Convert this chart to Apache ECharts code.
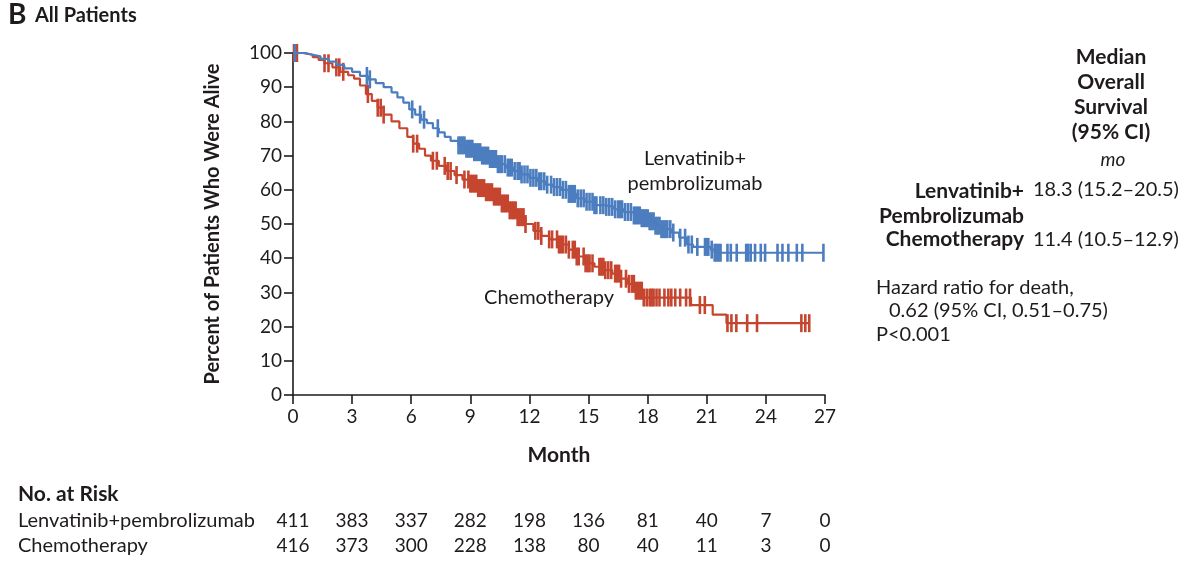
<!DOCTYPE html>
<html>
<head>
<meta charset="utf-8">
<script src="https://cdn.jsdelivr.net/npm/echarts@6/dist/echarts.min.js"></script>
<style>
  html, body { margin: 0; padding: 0; background: #fff; }
  #chart { width: 1200px; height: 564px; }
</style>
</head>
<body>
<div id="chart"></div>
<script>
// survival steps: [month, percent alive]
var lenvSteps = [
  [0, 100], [0.6, 99.5], [1.0, 99], [1.4, 98.3], [1.8, 97.5], [2.2, 96.5], [2.6, 95.5], [3.0, 94.5],
  [3.4, 93.3], [3.8, 92.3], [4.2, 91.2], [4.6, 90], [5.0, 88.5], [5.3, 87], [5.6, 85.5], [5.9, 83.5],
  [6.2, 82], [6.5, 80.5], [6.8, 79.5], [7.1, 78], [7.4, 76.8], [7.7, 75.5], [8.0, 74.3], [8.4, 73],
  [8.8, 72], [9.2, 71], [9.6, 70], [10.0, 69], [10.4, 67.5], [10.8, 66.5], [11.2, 65.5], [11.6, 64.5],
  [12.0, 63.5], [12.4, 62.5], [12.8, 61.5], [13.2, 60.8], [13.6, 60], [14.0, 58.8], [14.4, 57.5],
  [14.8, 56.5], [15.3, 55.5], [15.8, 55], [16.3, 54.3], [16.8, 53.5], [17.3, 52.5], [17.7, 51.7],
  [18.1, 50.8], [18.4, 49.5], [18.7, 48.5], [19.2, 47.5], [19.6, 46], [20.0, 44], [20.3, 43.3],
  [21.2, 42.5], [21.4, 41.6]
];
var chemoSteps = [
  [0, 100], [0.5, 99.5], [1.0, 98.8], [1.3, 98], [1.6, 97], [2.0, 95.8], [2.4, 94.5], [2.8, 93.5],
  [3.1, 92.5], [3.4, 90.5], [3.7, 88], [4.0, 86], [4.3, 84], [4.6, 82], [5.0, 80], [5.4, 78],
  [5.8, 75.5], [6.1, 73.5], [6.4, 72], [6.7, 70], [7.0, 68.5], [7.4, 67], [7.8, 65.5], [8.2, 64.3],
  [8.6, 63], [9.0, 61.8], [9.4, 60.5], [9.8, 59.3], [10.2, 58], [10.6, 56], [11.0, 54], [11.4, 52],
  [11.8, 50], [12.2, 48], [12.6, 46.5], [13.0, 45.5], [13.5, 44], [14.0, 42.5], [14.4, 40.5],
  [14.8, 38.5], [15.3, 37.5], [15.8, 36.5], [16.2, 35.5], [16.6, 34], [17.0, 32.5], [17.4, 30.5],
  [17.8, 28.5], [20.2, 26.3], [21.3, 23.5], [22.0, 21]
];

// censoring ticks (months)
var lenvCensor = [
  0.1, 3.75, 3.9, 6.05, 6.45, 6.65, 7.35, 8.4, 8.5, 8.6, 8.7, 8.8, 8.9, 9.0, 9.1, 9.2, 9.3, 9.4, 9.5,
  9.6, 9.7, 9.8, 9.9, 10.0, 10.1, 10.2, 10.3, 10.4, 10.5, 10.6, 10.75, 10.9, 11.0, 11.1, 11.25, 11.4,
  11.5, 11.6, 11.75, 11.9, 12.05, 12.2, 12.35, 12.5, 12.6, 12.75, 12.9, 13.1, 13.25, 13.4, 13.55,
  13.7, 13.85, 14.0, 14.1, 14.2, 14.3, 14.45, 14.6, 14.75, 14.9, 15.05, 15.2, 15.3, 15.4, 15.6, 15.75,
  15.9, 16.05, 16.2, 16.35, 16.5, 16.6, 16.7, 16.85, 17.0, 17.15, 17.3, 17.4, 17.5, 17.6, 17.7,
  17.8, 17.9, 18.0, 18.1, 18.2, 18.3, 18.4, 18.5, 18.6, 18.7, 18.8, 18.9, 19.0, 19.15, 19.3, 19.65,
  19.9, 20.07, 20.24, 20.52, 20.91, 21.0, 21.08, 21.25, 21.4, 21.5, 21.6, 21.7, 22.05, 22.22, 22.52,
  23.0, 23.1, 23.23, 23.45, 23.74, 23.96, 24.59, 24.84, 25.14, 25.57, 25.85, 26.92
];
var chemoCensor = [
  0.05, 0.2, 1.6, 1.8, 2.2, 2.35, 2.55, 3.8, 4.3, 4.45, 4.6, 6.1, 6.3, 7.1, 7.3, 7.7, 7.85, 8.0, 8.3,
  8.7, 8.9, 9.0, 9.1, 9.2, 9.3, 9.4, 9.5, 9.6, 9.7, 9.8, 9.9, 10.0, 10.1, 10.2, 10.3, 10.4, 10.5, 10.6,
  10.7, 10.8, 10.9, 11.0, 11.1, 11.2, 11.3, 11.4, 11.5, 11.6, 11.7, 11.8, 12.3, 12.45, 12.6, 13.0,
  13.15, 13.4, 13.5, 13.6, 13.7, 13.85, 14.0, 14.2, 14.3, 14.4, 14.5, 14.75, 14.85, 14.95, 15.05,
  15.2, 15.55, 15.65, 15.75, 15.85, 16.0, 16.15, 16.35, 16.45, 16.55, 16.65, 16.9, 17.05, 17.2,
  17.3, 17.4, 17.5, 17.6, 17.7, 17.8, 17.95, 18.1, 18.2, 18.3, 18.45, 18.6, 18.85, 19.05, 19.2, 19.4,
  19.65, 19.95, 20.15, 20.65, 20.9, 22.05, 22.25, 22.5, 23.05, 23.55, 25.8, 26.0, 26.2
];

var riskMonths = [0, 3, 6, 9, 12, 15, 18, 21, 24, 27];
var riskLenv = [411, 383, 337, 282, 198, 136, 81, 40, 7, 0];
var riskChemo = [416, 373, 300, 228, 138, 80, 40, 11, 3, 0];
var rowNames = ['Lenvatinib+pembrolizumab', 'Chemotherapy'];

var BLUE = '#4b7dbf';
var RED = '#c5452f';
var INK = '#1f1b1c';
var FONT = 'Lato';

function survivalAt(steps, t) {
  var v = steps[0][1];
  for (var i = 0; i < steps.length; i++) {
    if (steps[i][0] <= t) v = steps[i][1];
  }
  return v;
}
function curveWithTail(steps, censor) {
  var out = steps.slice();
  var last = censor[censor.length - 1];
  out.push([last, survivalAt(steps, last)]);
  return out;
}
function censorPoints(steps, censor) {
  return censor.map(function (t) { return [t, survivalAt(steps, t)]; });
}
function riskRow(name, counts) {
  return riskMonths.map(function (m, i) { return [m, name, counts[i]]; });
}

var chart = echarts.init(document.getElementById('chart'));

var axisStyle = { color: INK, width: 1.6 };
var censorSize = [2.6, 18];

chart.setOption({
  animation: false,
  textStyle: { fontFamily: FONT, color: INK },
  grid: [
    { left: 293, right: 375, top: 53, bottom: 169 },
    { left: 293, right: 375, top: 508, height: 50 }
  ],
  xAxis: [
    {
      gridIndex: 0, type: 'value', min: 0, max: 27, interval: 3,
      name: 'Month', nameLocation: 'middle', nameGap: 50,
      nameTextStyle: { fontFamily: FONT, fontSize: 21, fontWeight: 'bold', color: INK },
      axisLine: { lineStyle: axisStyle },
      axisTick: { length: 9, lineStyle: axisStyle },
      axisLabel: { fontFamily: FONT, fontSize: 19, color: INK, margin: 12 },
      splitLine: { show: false }
    },
    {
      gridIndex: 1, type: 'value', min: 0, max: 27, show: false
    }
  ],
  yAxis: [
    {
      gridIndex: 0, type: 'value', min: 0, max: 100, interval: 10,
      name: 'Percent of Patients Who Were Alive', nameLocation: 'middle', nameGap: 70,
      nameTextStyle: { fontFamily: FONT, fontSize: 20, fontWeight: 'bold', color: INK },
      axisLine: { show: true, lineStyle: axisStyle },
      axisTick: { show: true, length: 9, lineStyle: axisStyle },
      axisLabel: { fontFamily: FONT, fontSize: 19, color: INK, margin: 11 },
      splitLine: { show: false }
    },
    {
      gridIndex: 1, type: 'category', data: rowNames, inverse: true,
      axisLine: { show: false }, axisTick: { show: false },
      axisLabel: { interval: 0, fontFamily: FONT, fontSize: 20, color: INK, align: 'left', margin: 275 }
    }
  ],
  series: [
    {
      type: 'line', step: 'end', showSymbol: false, xAxisIndex: 0, yAxisIndex: 0,
      data: curveWithTail(chemoSteps, chemoCensor),
      lineStyle: { color: RED, width: 2.2 }, z: 2
    },
    {
      type: 'scatter', xAxisIndex: 0, yAxisIndex: 0,
      symbol: 'rect', symbolSize: censorSize,
      data: censorPoints(chemoSteps, chemoCensor),
      itemStyle: { color: RED, opacity: 1 }, z: 3
    },
    {
      type: 'line', step: 'end', showSymbol: false, xAxisIndex: 0, yAxisIndex: 0,
      data: curveWithTail(lenvSteps, lenvCensor),
      lineStyle: { color: BLUE, width: 2.2 }, z: 4
    },
    {
      type: 'scatter', xAxisIndex: 0, yAxisIndex: 0,
      symbol: 'rect', symbolSize: censorSize,
      data: censorPoints(lenvSteps, lenvCensor),
      itemStyle: { color: BLUE, opacity: 1 }, z: 5
    },
    {
      type: 'scatter', xAxisIndex: 1, yAxisIndex: 1, symbolSize: 0,
      data: riskRow(rowNames[0], riskLenv).concat(riskRow(rowNames[1], riskChemo)),
      itemStyle: { opacity: 1 },
      label: {
        show: true, position: 'inside', align: 'center',
        fontFamily: FONT, fontSize: 19, color: INK,
        formatter: function (p) { return p.value[2]; }
      }
    }
  ],
  graphic: [
    { type: 'text', left: 8, top: 1, style: { text: 'B', font: 'bold 28px ' + FONT, fill: INK } },
    { type: 'text', left: 35, top: 6, style: { text: 'All Patients', font: 'bold 20px ' + FONT, fill: INK } },

    { type: 'text', x: 695, y: 146, style: { text: 'Lenvatinib+\npembrolizumab', font: '20px ' + FONT, fill: INK, align: 'center', lineHeight: 25 } },
    { type: 'text', x: 549, y: 288, style: { text: 'Chemotherapy', font: '20px ' + FONT, fill: INK, align: 'center' } },

    { type: 'text', x: 1111, y: 45, style: { text: 'Median\nOverall\nSurvival\n(95% CI)', font: 'bold 21px ' + FONT, fill: INK, align: 'center', lineHeight: 25 } },
    { type: 'text', x: 1113, y: 150, style: { text: 'mo', font: 'italic 19px ' + FONT, fill: INK, align: 'center' } },
    { type: 'text', x: 1024, y: 179, style: { text: 'Lenvatinib+\nPembrolizumab', font: 'bold 21px ' + FONT, fill: INK, align: 'right', lineHeight: 25 } },
    { type: 'text', x: 1033, y: 180, style: { text: '18.3 (15.2\u201320.5)', font: '20px ' + FONT, fill: INK } },
    { type: 'text', x: 1024, y: 229, style: { text: 'Chemotherapy', font: 'bold 21px ' + FONT, fill: INK, align: 'right' } },
    { type: 'text', x: 1033, y: 230, style: { text: '11.4 (10.5\u201312.9)', font: '20px ' + FONT, fill: INK } },
    { type: 'text', x: 876, y: 278, style: { text: 'Hazard ratio for death,', font: '20px ' + FONT, fill: INK } },
    { type: 'text', x: 889, y: 301, style: { text: '0.62 (95% CI, 0.51\u20130.75)', font: '20px ' + FONT, fill: INK } },
    { type: 'text', x: 876, y: 325, style: { text: 'P<0.001', font: '20px ' + FONT, fill: INK } },

    { type: 'text', x: 18, y: 484, style: { text: 'No. at Risk', font: 'bold 21px ' + FONT, fill: INK } }
  ]
});
</script>
</body>
</html>
